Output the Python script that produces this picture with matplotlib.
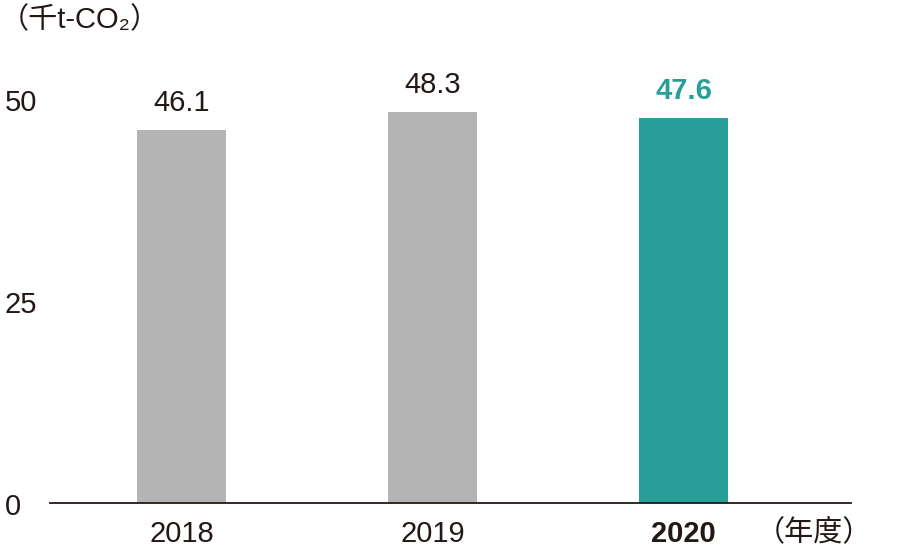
import matplotlib
matplotlib.use("Agg")
import matplotlib.pyplot as plt
from matplotlib.transforms import blended_transform_factory, offset_copy

plt.rcParams['font.family'] = ['Liberation Sans', 'Noto Sans CJK JP', 'DejaVu Sans']

years = ['2018', '2019', '2020']
values = [46.1, 48.3, 47.6]
yticks = [0, 25, 50]

gray = '#b4b4b4'
teal = '#279e98'
dark = '#231815'
colors = [gray, gray, teal]

fig = plt.figure(figsize=(9.2, 5.49), dpi=100)
ax = fig.add_axes([50 / 920, 46 / 549, 801 / 920, 404.5 / 549])

x = range(len(years))
ax.bar(x, values, width=0.355, color=colors, zorder=2)

for i, v in enumerate(values):
    last = i == len(values) - 1
    ax.text(i, v + 1.6, f'{v:.1f}', ha='center', va='bottom', fontsize=21,
            color=teal if last else dark, fontweight='bold' if last else 'normal',
            clip_on=False)

ax.set_xlim(-0.524, 2.667)
ax.set_ylim(0, 50)
ax.set_xticks(list(x))
ax.set_xticklabels(years, fontsize=21, color=dark)
ax.get_xticklabels()[-1].set_fontweight('bold')
ax.set_yticks([])
ax.tick_params(length=0)
ax.tick_params(axis='x', pad=12)

# y labels sit flush at the left edge of the figure
trans = blended_transform_factory(fig.transFigure, ax.transData)
trans = offset_copy(trans, fig=fig, y=-3, units='points')
for t in yticks:
    ax.text(5 / 920, t, str(t), transform=trans, ha='left', va='center',
            fontsize=21, color=dark, clip_on=False)

for s in ['top', 'right', 'left']:
    ax.spines[s].set_visible(False)
ax.spines['bottom'].set_color(dark)
ax.spines['bottom'].set_linewidth(1.3)

fig.text(0, 1 - 20 / 549, '（千t-CO₂）', fontsize=21, color=dark, va='center', ha='left')
fig.text(756 / 920, 1 - 533 / 549, '（年度）', fontsize=21, color=dark, va='center', ha='left')

fig.savefig('out.png', dpi=100)
